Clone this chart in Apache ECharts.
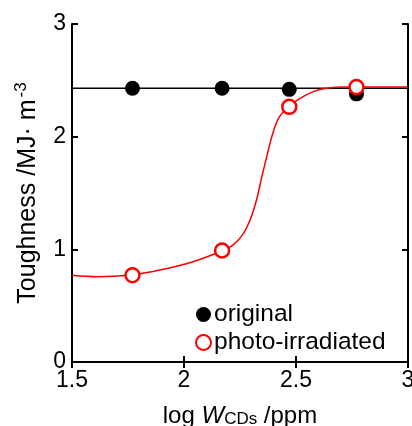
<!DOCTYPE html>
<html>
<head>
<meta charset="utf-8">
<script src="https://cdn.jsdelivr.net/npm/echarts@6/dist/echarts.min.js"></script>
<style>
  html, body { margin: 0; padding: 0; background: #fff; }
  #container { width: 412px; height: 426px; }
</style>
</head>
<body>
<div id="container"></div>
<script>
var dom = document.getElementById("container");
var myChart = echarts.init(dom);

// measured points
var originalData = [[1.77, 2.43], [2.17, 2.43], [2.47, 2.42], [2.77, 2.38]];
var irradiatedData = [[1.77, 0.77], [2.17, 0.99], [2.47, 2.265], [2.77, 2.44]];

// fit lines
var originalLine = [[1.5, 2.43], [3, 2.43]];
var irradiatedCurve = [
    [1.5, 0.77], [1.61, 0.757], [1.762, 0.772], [1.893, 0.816], [2.04, 0.89],
    [2.168, 0.985], [2.22, 1.04], [2.265, 1.14], [2.295, 1.26], [2.324, 1.44],
    [2.347, 1.64], [2.369, 1.82], [2.392, 2.0], [2.421, 2.16], [2.466, 2.265],
    [2.518, 2.34], [2.577, 2.40], [2.637, 2.43], [2.72, 2.44], [3, 2.44]
];

var xTicks = { min: 1.5, max: 3, interval: 0.5 };
var yTicks = { min: 0, max: 3, interval: 1 };

var fontFam = 'Liberation Sans, Arial, sans-serif';
var axisLine = { lineStyle: { color: '#000', width: 2 } };
var tickIn = { inside: true, length: 6, lineStyle: { color: '#000', width: 2 } };

option = {
    backgroundColor: '#fff',
    animation: false,
    grid: { left: 72, right: 4, top: 24, bottom: 64, containLabel: false, outerBoundsMode: 'none' },
    legend: {
        orient: 'vertical',
        left: 190,
        top: 297,
        itemWidth: 15,
        itemHeight: 15,
        itemGap: 3,
        data: ['original', 'photo-irradiated'],
        textStyle: { fontSize: 24.5, color: '#000', fontFamily: fontFam, padding: [0, 0, 0, -2] }
    },
    xAxis: [{
        type: 'value',
        min: xTicks.min, max: xTicks.max, interval: xTicks.interval,
        axisLine: axisLine,
        axisTick: tickIn,
        splitLine: { show: false },
        axisLabel: {
            fontSize: 23, color: '#000', fontFamily: fontFam, margin: 7,
            formatter: function (v) { return String(v); }
        },
        name: '{a|log }{w|W}{s|CDs}{a| /ppm}',
        nameLocation: 'middle',
        nameGap: 42,
        nameTextStyle: {
            rich: {
                a: { fontSize: 24, color: '#000', fontFamily: fontFam },
                w: { fontSize: 24, color: '#000', fontFamily: fontFam, fontStyle: 'italic' },
                s: { fontSize: 17, color: '#000', fontFamily: fontFam, padding: [6, 0, 0, 0] }
            }
        }
    }, {
        type: 'value',
        position: 'top',
        min: xTicks.min, max: xTicks.max, interval: xTicks.interval,
        axisLine: axisLine,
        axisTick: tickIn,
        axisLabel: { show: false },
        splitLine: { show: false }
    }],
    yAxis: [{
        type: 'value',
        min: yTicks.min, max: yTicks.max, interval: yTicks.interval,
        axisLine: axisLine,
        axisTick: tickIn,
        splitLine: { show: false },
        axisLabel: { fontSize: 23, color: '#000', fontFamily: fontFam, margin: 6 },
        name: '{a|Toughness /MJ· m}{p|-3}',
        nameLocation: 'middle',
        nameGap: 28,
        nameTextStyle: {
            rich: {
                a: { fontSize: 25, color: '#000', fontFamily: fontFam },
                p: { fontSize: 17, color: '#000', fontFamily: fontFam, padding: [0, 0, 14, 2] }
            }
        }
    }, {
        type: 'value',
        position: 'right',
        min: yTicks.min, max: yTicks.max, interval: yTicks.interval,
        axisLine: axisLine,
        axisTick: tickIn,
        axisLabel: { show: false },
        splitLine: { show: false }
    }],
    series: [{
        type: 'line',
        data: originalLine,
        symbol: 'none',
        lineStyle: { color: '#000', width: 1.5 },
        z: 2
    }, {
        type: 'line',
        data: irradiatedCurve,
        smooth: 0.3,
        symbol: 'none',
        lineStyle: { color: '#ff0000', width: 1.5 },
        z: 3
    }, {
        name: 'original',
        type: 'scatter',
        data: originalData,
        symbol: 'circle',
        symbolSize: 15,
        itemStyle: { color: '#000', opacity: 1 },
        z: 4
    }, {
        name: 'photo-irradiated',
        type: 'scatter',
        data: irradiatedData,
        symbol: 'circle',
        symbolSize: 14,
        itemStyle: { color: '#fff', borderColor: '#ff0000', borderWidth: 2.5, opacity: 1 },
        z: 5
    }]
};
myChart.setOption(option, true);
</script>
</body>
</html>
